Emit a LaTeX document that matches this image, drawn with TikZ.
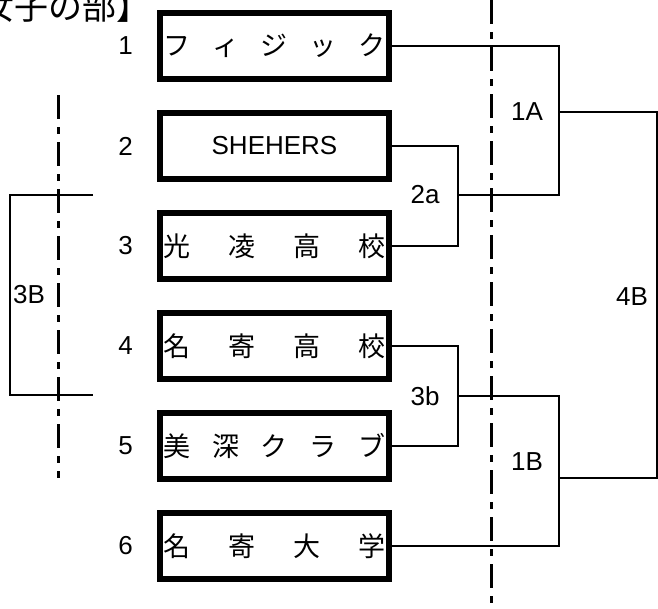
\documentclass[tikz,border=0pt]{standalone}
\usepackage{fontspec}
\setmainfont{Liberation Sans}
\newfontfamily\jp{Noto Sans CJK JP}
\begin{document}
\begin{tikzpicture}[x=1pt,y=-1pt,
  team/.style={draw, line width=6.5pt, minimum width=229pt, minimum height=66pt, inner sep=0pt, font=\jp\fontsize{27}{27}\selectfont},
  num/.style={anchor=east, inner sep=0pt, font=\fontsize{26}{26}\selectfont},
  lab/.style={inner sep=0pt, font=\fontsize{26}{26}\selectfont},
  wire/.style={line width=2.6pt},
  axisline/.style={line width=3pt, dash pattern=on 24pt off 8pt on 7pt off 8pt}]
\clip (0,0) rectangle (658,608);
\fill[white] (0,0) rectangle (658,608);
% title
\node[anchor=base west, inner sep=0pt, font=\jp\fontsize{34}{34}\selectfont] (title) at (-54,19) {【女子の部】};
% dash-dot lines
\draw[axisline] (491,0) -- (491,608);
\draw[axisline] (58,95) -- (58,478);
% boxes
\node[team] (b1) at (274.5,46) {\makebox[222pt]{フ\hfill ィ\hfill ジ\hfill ッ\hfill ク}};
\node[team, font=\fontsize{26}{26}\selectfont] (b2) at (274.5,146) {SHEHERS};
\node[team] (b3) at (274.5,246) {\makebox[222pt]{光\hfill 凌\hfill 高\hfill 校}};
\node[team] (b4) at (274.5,346) {\makebox[222pt]{名\hfill 寄\hfill 高\hfill 校}};
\node[team] (b5) at (274.5,446) {\makebox[222pt]{美\hfill 深\hfill ク\hfill ラ\hfill ブ}};
\node[team] (b6) at (274.5,546) {\makebox[222pt]{名\hfill 寄\hfill 大\hfill 学}};
% numbers
\node[num] (n1) at (133,46) {1};
\node[num] (n2) at (133,146) {2};
\node[num] (n3) at (133,246) {3};
\node[num] (n4) at (133,346) {4};
\node[num] (n5) at (133,446) {5};
\node[num] (n6) at (133,546) {6};
% junctions
\coordinate (x2a) at (458,195);
\coordinate (x3b) at (458,396);
\coordinate (x1A) at (559,112);
\coordinate (x1B) at (559,478);
\coordinate (x4Bt) at (657,112);
\coordinate (x4Bb) at (657,478);
\coordinate (k3t) at (93,195);
\coordinate (k3tl) at (10,195);
\coordinate (k3bl) at (10,395);
\coordinate (k3b) at (93,395);
% connectors
\draw[wire] (b2.east) -| (x2a) |- (b3.east);
\draw[wire] (b4.east) -| (x3b) |- (b5.east);
\draw[wire] (x2a) -| (x1A) |- (b1.east);
\draw[wire] (x3b) -| (x1B) |- (b6.east);
\draw[wire] (x1A) -- (x4Bt) -- (x4Bb) -- (x1B);
\draw[wire] (k3t) -- (k3tl) -- (k3bl) -- (k3b);
% labels
\node[lab] (l2a) at (425,195) {2a};
\node[lab] (l3b) at (425,396) {3b};
\node[lab] (l1A) at (527,112) {1A};
\node[lab] (l1B) at (527,462) {1B};
\node[lab] (l4B) at (632,297) {4B};
\node[lab] (l3B) at (29,295) {3B};
\end{tikzpicture}
\end{document}
